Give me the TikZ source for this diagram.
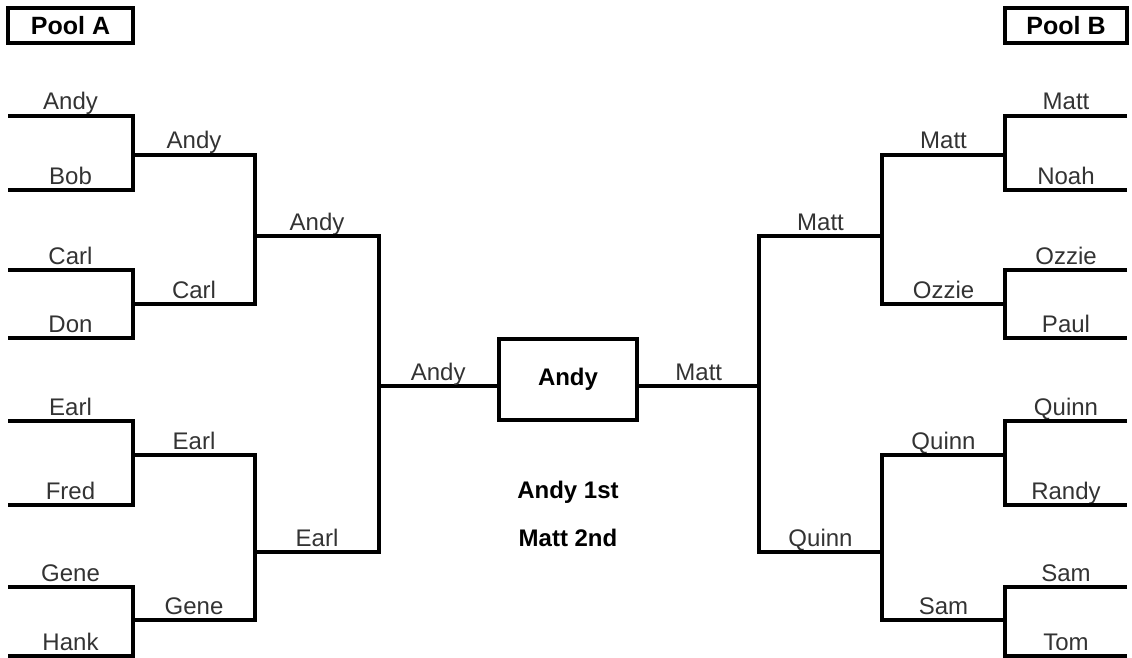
\documentclass[tikz,border=0pt]{standalone}
\usepackage{fontspec}
\setmainfont{Liberation Sans}
\begin{document}
\begin{tikzpicture}[x=1pt,y=-1pt,
  wire/.style={line width=3.2pt, line join=miter},
  lbl/.style={anchor=base, inner sep=0pt, yshift=6pt, text=black!80,
    font=\fontsize{24}{24}\selectfont},
  title/.style={draw, line width=3.2pt, inner sep=0pt,
    font=\bfseries\fontsize{25}{25}\selectfont},
  result/.style={inner sep=0pt, font=\bfseries\fontsize{24}{24}\selectfont}]
\useasboundingbox (0,0) rectangle (1132,658);

% pool headers
\node[title, minimum width=125pt, minimum height=35pt] (poolA) at (70.5,25.5) {Pool A};
\node[title, minimum width=122pt, minimum height=35pt] (poolB) at (1066,25.5) {Pool B};

% champion box
\node[draw, line width=3.2pt, minimum width=138pt, minimum height=81pt,
  inner sep=0pt, font=\bfseries\fontsize{24}{24}\selectfont] (champ) at (568,379.5) {Andy};

% ---------- Pool A ----------
\foreach \i/\y/\t in {1/116/Andy,2/190/Bob,3/270/Carl,4/338/Don,
                      5/421/Earl,6/505/Fred,7/587/Gene,8/656/Hank}{
  \coordinate (A1o\i) at (8,\y);
  \coordinate (A1i\i) at (133,\y);
  \path (A1o\i) -- node[lbl]{\t} (A1i\i);
}
\foreach \a/\b in {1/2,3/4,5/6,7/8}
  \draw[wire] (A1o\a) -- (A1i\a) -- (A1i\b) -- (A1o\b);

\foreach \i/\y/\t in {1/155/Andy,2/304/Carl,3/455/Earl,4/620/Gene}{
  \coordinate (A2o\i) at (133,\y);
  \coordinate (A2i\i) at (255,\y);
  \path (A2o\i) -- node[lbl]{\t} (A2i\i);
}
\foreach \a/\b in {1/2,3/4}
  \draw[wire] (A2o\a) -- (A2i\a) -- (A2i\b) -- (A2o\b);

\foreach \i/\y/\t in {1/236/Andy,2/552/Earl}{
  \coordinate (A3o\i) at (255,\y);
  \coordinate (A3i\i) at (379,\y);
  \path (A3o\i) -- node[lbl]{\t} (A3i\i);
}
\draw[wire] (A3o1) -- (A3i1) -- (A3i2) -- (A3o2);

\coordinate (A4o) at (379,386);
\draw[wire] (A4o) -- node[lbl]{Andy} (A4o -| champ.west);

% ---------- Pool B ----------
\foreach \i/\y/\t in {1/116/Matt,2/190/Noah,3/270/Ozzie,4/338/Paul,
                      5/421/Quinn,6/505/Randy,7/587/Sam,8/656/Tom}{
  \coordinate (B1o\i) at (1127,\y);
  \coordinate (B1i\i) at (1005,\y);
  \path (B1i\i) -- node[lbl]{\t} (B1o\i);
}
\foreach \a/\b in {1/2,3/4,5/6,7/8}
  \draw[wire] (B1o\a) -- (B1i\a) -- (B1i\b) -- (B1o\b);

\foreach \i/\y/\t in {1/155/Matt,2/304/Ozzie,3/455/Quinn,4/620/Sam}{
  \coordinate (B2o\i) at (1005,\y);
  \coordinate (B2i\i) at (882,\y);
  \path (B2i\i) -- node[lbl]{\t} (B2o\i);
}
\foreach \a/\b in {1/2,3/4}
  \draw[wire] (B2o\a) -- (B2i\a) -- (B2i\b) -- (B2o\b);

\foreach \i/\y/\t in {1/236/Matt,2/552/Quinn}{
  \coordinate (B3o\i) at (882,\y);
  \coordinate (B3i\i) at (759,\y);
  \path (B3i\i) -- node[lbl]{\t} (B3o\i);
}
\draw[wire] (B3o1) -- (B3i1) -- (B3i2) -- (B3o2);

\coordinate (B4o) at (759,386);
\draw[wire] (B4o -| champ.east) -- node[lbl]{Matt} (B4o);

% final standings
\node[result] (first) at (568,492) {Andy 1st};
\node[result] (second) at (568,538) {Matt 2nd};
\end{tikzpicture}
\end{document}
